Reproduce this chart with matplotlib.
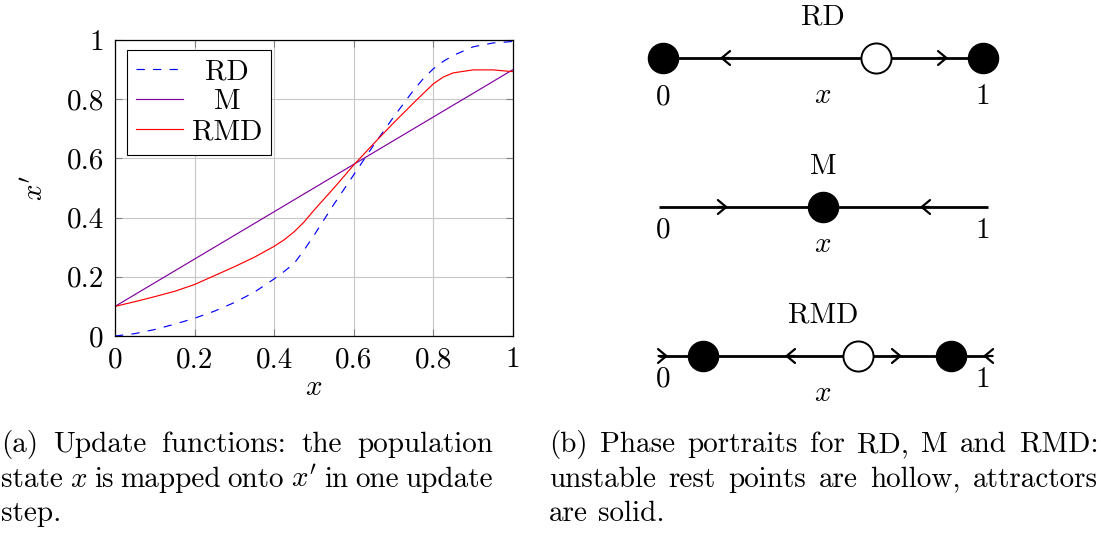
import matplotlib
matplotlib.use("Agg")
import matplotlib.pyplot as plt

# update functions
X = [0.0, 0.05, 0.1, 0.15, 0.2, 0.25, 0.3, 0.35, 0.4, 0.425, 0.45, 0.475, 0.5,
     0.55, 0.6, 0.65, 0.7, 0.75, 0.775, 0.8, 0.825, 0.85, 0.9, 0.95, 1.0]
RD = [0.0, 0.008, 0.022, 0.04, 0.06, 0.084, 0.113, 0.148, 0.193, 0.218, 0.245,
      0.29, 0.34, 0.445, 0.545, 0.645, 0.74, 0.83, 0.87, 0.903, 0.928, 0.948,
      0.977, 0.99, 0.995]
RMD = [0.10, 0.116, 0.133, 0.151, 0.174, 0.204, 0.234, 0.266, 0.303, 0.325,
       0.352, 0.385, 0.425, 0.50, 0.578, 0.65, 0.72, 0.787, 0.82, 0.852, 0.875,
       0.889, 0.899, 0.899, 0.893]
M_X = [0.0, 1.0]
M = [0.1, 0.9]
TICKS = [0, 0.2, 0.4, 0.6, 0.8, 1]
TICK_LABELS = ["0", "0.2", "0.4", "0.6", "0.8", "1"]

# phase portraits: name, line extent, attractors, repellers, arrows (pos, direction)
PHASE_NAMES = ["RD", "M", "RMD"]
PHASE_EXTENT = [(0.0, 1.0), (-0.0125, 1.016), (-0.0125, 1.016)]
ATTRACTORS = [[0.0, 1.0], [0.5], [0.125, 0.9]]
REPELLERS = [[0.666], [], [0.609]]
ARROWS = [[(0.178, -1), (0.891, 1)],
          [(0.203, 1), (0.803, -1)],
          [(0.016, 1), (0.381, -1), (0.747, 1), (1.0, -1)]]

CAPTION_A = ["(a) Update functions: the population",
             "state $x$ is mapped onto $x'$ in one update",
             "step."]
CAPTION_B = ["(b) Phase portraits for RD, M and RMD:",
             "unstable rest points are hollow, attractors",
             "are solid."]

plt.rcParams["font.family"] = "serif"
plt.rcParams["font.serif"] = ["cmr10"]
plt.rcParams["mathtext.fontset"] = "cm"
plt.rcParams["axes.formatter.use_mathtext"] = True
FS = 21

W, H = 1102, 534
fig = plt.figure(figsize=(W / 100, H / 100), dpi=100)

# ---- left panel
ax = fig.add_axes([115 / W, (H - 336) / H, 398 / W, 296 / H])
ax.plot(X, RD, color="blue", lw=0.85, ls=(0, (7, 7)), label="RD")
ax.plot(M_X, M, color="#8000a0", lw=0.85, label="M")
ax.plot(X, RMD, color="red", lw=0.85, label="RMD")
ax.set_xlim(0, 1)
ax.set_ylim(0, 1)
ax.set_xticks(TICKS, TICK_LABELS)
ax.set_yticks(TICKS, TICK_LABELS)
ax.grid(True, color="#c8c8c8", lw=0.8)
ax.set_axisbelow(True)
ax.tick_params(direction="in", length=5, color="#808080", labelsize=FS,
               top=True, right=True, pad=8)
for s in ax.spines.values():
    s.set_linewidth(0.9)
ax.set_xlabel("$x$", fontsize=FS, labelpad=1)
ax.set_ylabel("$x'$", fontsize=FS, labelpad=13)
leg = ax.legend(loc="upper left", bbox_to_anchor=(0.030, 0.967), borderaxespad=0,
                fontsize=FS, fancybox=False, edgecolor="black", framealpha=1,
                handlelength=1.6, handletextpad=0.3, labelspacing=0.12,
                borderpad=0.32)
leg.get_frame().set_linewidth(0.8)

# centre the legend labels like pgfplots does
renderer = fig.canvas.get_renderer()
lw_ = [t.get_window_extent(renderer).width for t in leg.get_texts()]
for t, w in zip(leg.get_texts(), lw_):
    t.set_x((max(lw_) - w) / 2)

# ---- right panel
ax2 = fig.add_axes([630 / W, (H - 410) / H, 390 / W, 410 / H])
ax2.set_xlim(-33 / 320, 357 / 320)
ax2.set_ylim(-54 / 149, 2 + 58 / 149)
ax2.axis("off")
for i, name in enumerate(PHASE_NAMES):
    y = 2 - i
    x0, x1 = PHASE_EXTENT[i]
    ax2.plot([x0, x1], [y, y], color="black", lw=2.0, solid_capstyle="butt", zorder=1)
    for xa, d in ARROWS[i]:
        ax2.annotate("", xy=(xa, y), xytext=(xa - d * 0.03, y),
                     arrowprops=dict(arrowstyle="->,head_length=0.3,head_width=0.25",
                                     lw=1.6, color="black", shrinkA=0, shrinkB=0,
                                     mutation_scale=20), zorder=2)
    ax2.scatter(ATTRACTORS[i], [y] * len(ATTRACTORS[i]), s=470, color="black",
                zorder=3)
    ax2.scatter(REPELLERS[i], [y] * len(REPELLERS[i]), s=470, facecolor="white",
                edgecolor="black", linewidths=1.4, zorder=3)
    ax2.annotate(name, (0.5, y), xytext=(0, 29), textcoords="offset points",
                 ha="center", va="center", fontsize=FS)
    end_off = -28 if i == 0 else -17
    ax2.annotate("0", (0.0, y), xytext=(0, end_off), textcoords="offset points",
                 ha="center", va="center", fontsize=FS)
    ax2.annotate("1", (1.0, y), xytext=(0, end_off), textcoords="offset points",
                 ha="center", va="center", fontsize=FS)
    ax2.annotate("$x$", (0.5, y), xytext=(0, -27), textcoords="offset points",
                 ha="center", va="center", fontsize=FS)

# ---- captions, justified like the LaTeX source


def caption_line(text, x0, x1, y, justify=True):
    words = text.split(" ")
    items = [fig.text(0, y / H, w, fontsize=FS, va="baseline",
                      transform=fig.transFigure) for w in words]
    widths = [t.get_window_extent(renderer).width for t in items]
    if justify and len(words) > 1:
        gap = (x1 - x0 - sum(widths)) / (len(words) - 1)
    else:
        gap = 0.33 * FS * 100 / 72
    x = x0
    for t, w in zip(items, widths):
        t.set_x(x / W)
        x += w + gap


baselines = [H - 452, H - 487, H - 521]
for k, line in enumerate(CAPTION_A):
    caption_line(line, 1, 493, baselines[k], justify=k < 2)
for k, line in enumerate(CAPTION_B):
    caption_line(line, 549, 1098, baselines[k], justify=k < 2)

fig.savefig("out.png", dpi=100)
